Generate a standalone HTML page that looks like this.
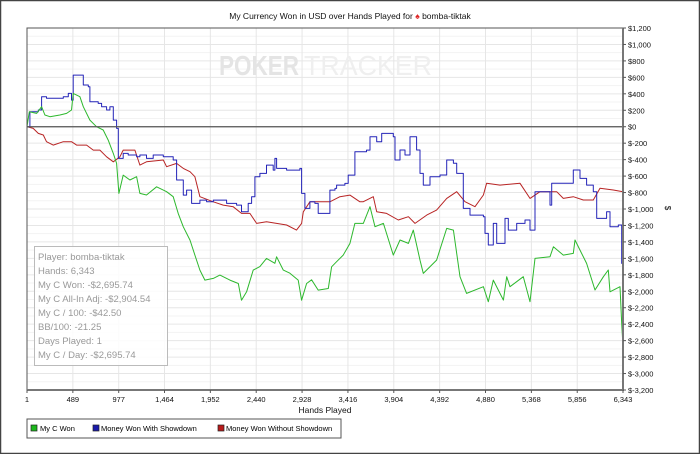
<!DOCTYPE html>
<html><head><meta charset="utf-8"><style>
html,body{margin:0;padding:0;background:#fff}
svg{display:block;font-family:"Liberation Sans",sans-serif}
</style></head><body>
<svg id="chart" width="700" height="454" viewBox="0 0 700 454" xmlns="http://www.w3.org/2000/svg">
<rect x="0.5" y="0.5" width="699" height="453" fill="#fff" stroke="#444" stroke-width="1.5"/>
<text x="350" y="19" font-size="8.5" text-anchor="middle" fill="#111">My Currency Won in USD over Hands Played for <tspan fill="#d22">♠</tspan> bomba-tiktak</text>
<g id="grid"></g>
<g font-size="28" font-weight="bold"><text x="219" y="75" fill="#e4e4e4" textLength="80" lengthAdjust="spacingAndGlyphs">POKER</text><text x="304" y="75" fill="#efefef" font-weight="normal" textLength="128" lengthAdjust="spacingAndGlyphs">TRACKER</text></g>
<g id="series"></g>
<g id="axes"></g>
<text x="665" y="208" font-size="8" text-anchor="middle" transform="rotate(90 665 208)">$</text>
<text x="325" y="413" font-size="8.5" text-anchor="middle" fill="#111">Hands Played</text>
<g>
<rect x="34.5" y="246.5" width="133" height="119" fill="#fff" fill-opacity="0.85" stroke="#bbb"/>
<g font-size="9.5" fill="#999">
<text x="38" y="260">Player: bomba-tiktak</text>
<text x="38" y="274">Hands: 6,343</text>
<text x="38" y="288">My C Won: -$2,695.74</text>
<text x="38" y="302">My C All-In Adj: -$2,904.54</text>
<text x="38" y="316">My C / 100: -$42.50</text>
<text x="38" y="330">BB/100: -21.25</text>
<text x="38" y="344">Days Played: 1</text>
<text x="38" y="358">My C / Day: -$2,695.74</text>
</g></g>
<g>
<rect x="27" y="419" width="314" height="19" fill="#fff" stroke="#555" stroke-width="1"/>
<g><rect x="31" y="425" width="6" height="6" fill="#1db81d" stroke="#222" stroke-width="0.7"/><text x="40" y="431" font-size="7.5">My C Won</text></g>
<g><rect x="93" y="425" width="6" height="6" fill="#1a1aaa" stroke="#222" stroke-width="0.7"/><text x="101" y="431" font-size="7.5">Money Won With Showdown</text></g>
<g><rect x="218" y="425" width="6" height="6" fill="#b81a1a" stroke="#222" stroke-width="0.7"/><text x="226" y="431" font-size="7.5">Money Won Without Showdown</text></g>
</g>
</svg>
<script>
const xTicks = [1,489,977,1464,1952,2440,2928,3416,3904,4392,4880,5368,5856,6343];
const yTicks = [1200,1000,800,600,400,200,0,-200,-400,-600,-800,-1000,-1200,-1400,-1600,-1800,-2000,-2200,-2400,-2600,-2800,-3000,-3200];
const greenHands = [1,25,103,156,192,245,351,422,475,493,564,600,670,741,812,865,919,954,979,1025,1096,1167,1202,1273,1380,1486,1557,1610,1664,1735,1788,1841,1894,1983,2054,2160,2249,2284,2338,2408,2479,2550,2639,2657,2728,2799,2887,2923,2976,3029,3100,3207,3242,3295,3366,3437,3490,3543,3580,3651,3704,3793,3899,3970,4059,4112,4183,4218,4360,4467,4538,4608,4679,4857,4910,4963,5070,5105,5141,5282,5353,5407,5566,5602,5708,5814,5832,5885,5956,6045,6134,6187,6205,6311,6329,6343];
const greenValues = [0,182,162,243,142,122,142,162,203,405,365,243,81,0,-40,-162,-324,-446,-810,-588,-648,-608,-810,-830,-730,-790,-851,-1054,-1216,-1378,-1560,-1743,-1864,-1844,-1804,-1864,-1905,-2108,-2006,-1743,-1700,-1601,-1660,-1581,-1743,-1780,-1864,-2108,-1905,-1860,-1986,-1966,-1702,-1640,-1560,-1419,-1175,-1175,-1175,-972,-1215,-1175,-1560,-1377,-1418,-1256,-1621,-1783,-1621,-1236,-1256,-1823,-2026,-1945,-2127,-1864,-2107,-1823,-1945,-1823,-2127,-1600,-1580,-1459,-1560,-1540,-1377,-1499,-1661,-1985,-1823,-1742,-2006,-1945,-2391,-2675];
const blueHands = [1,32,121,156,209,387,440,475,493,582,600,653,670,759,795,848,883,919,954,972,1025,1078,1167,1202,1273,1344,1451,1557,1593,1664,1699,1752,1841,1912,1983,2125,2231,2284,2355,2391,2426,2479,2550,2621,2639,2657,2763,2834,2905,2923,2958,3011,3064,3100,3207,3224,3278,3295,3384,3419,3490,3614,3651,3722,3775,3899,3917,3970,4023,4077,4147,4183,4218,4289,4396,4467,4538,4573,4644,4715,4857,4875,4910,4963,4999,5087,5123,5212,5300,5353,5407,5549,5566,5584,5744,5814,5885,5956,6027,6063,6169,6205,6293,6329,6343];
const blueValues = [0,182,203,365,345,365,405,324,628,628,507,486,304,284,243,203,243,81,-20,-385,-324,-344,-365,-344,-385,-344,-365,-405,-648,-831,-770,-932,-892,-912,-892,-932,-953,-1034,-932,-851,-608,-567,-466,-527,-385,-507,-527,-527,-507,-810,-993,-912,-932,-1054,-1054,-770,-750,-709,-689,-588,-304,-284,-121,-182,-81,-121,-405,-283,-344,-121,-283,-567,-709,-607,-587,-405,-445,-567,-993,-1074,-1094,-1296,-1438,-1175,-1418,-1114,-1256,-1175,-1134,-1256,-790,-790,-952,-688,-688,-526,-628,-709,-790,-1114,-1033,-1215,-1195,-1661,-1904];
const redHands = [1,67,121,174,209,280,387,475,529,635,706,777,848,919,990,1025,1149,1202,1273,1451,1486,1593,1664,1735,1788,1841,1983,2089,2196,2284,2373,2444,2550,2763,2869,2923,2941,3011,3224,3331,3437,3543,3580,3686,3722,3828,3952,4059,4130,4254,4360,4467,4573,4662,4768,4857,4892,5034,5247,5353,5460,5637,5708,5814,5921,6027,6098,6240,6343];
const redValues = [0,-20,-81,-101,-182,-223,-182,-182,-223,-223,-284,-284,-365,-426,-365,-284,-284,-466,-426,-405,-486,-446,-507,-547,-608,-851,-912,-953,-973,-1054,-1054,-1175,-1155,-1195,-1256,-1175,-1034,-912,-912,-851,-831,-912,-911,-851,-1033,-1054,-1134,-1094,-1175,-1074,-1013,-871,-790,-911,-972,-830,-688,-709,-688,-871,-790,-790,-871,-850,-891,-891,-749,-769,-790];

const L=27,R=623,T=28,B=390,XMIN=1,XMAX=6343,YMAX=1200,YMIN=-3200;
const sx=h=>L+(h-XMIN)/(XMAX-XMIN)*(R-L);
const sy=v=>T+(YMAX-v)/(YMAX-YMIN)*(B-T);
const NS="http://www.w3.org/2000/svg";
function mk(tag,attrs,parent){const e=document.createElementNS(NS,tag);for(const k in attrs)e.setAttribute(k,attrs[k]);parent.appendChild(e);return e;}
const grid=document.getElementById('grid'),axes=document.getElementById('axes'),series=document.getElementById('series');
for(let v=YMAX;v>=YMIN;v-=100){const g=mk('line',{x1:L,x2:R,y1:sy(v),y2:sy(v),stroke:v%200===0?'#e6e6e6':'#f3f3f3','stroke-width':1},grid);

}
xTicks.forEach(t=>{const g=mk('line',{x1:sx(t),x2:sx(t),y1:T,y2:B,stroke:'#e6e6e6','stroke-width':1},grid);

});
const frame=mk('path',{d:`M${L},${B} L${L},${T} L${R},${T}`,fill:'none',stroke:'#555','stroke-width':1},axes);


const zero=mk('line',{x1:L,x2:R,y1:sy(0),y2:sy(0),stroke:'#555','stroke-width':1.3},axes);


const ya=mk('line',{x1:R,x2:R,y1:T,y2:B+1,stroke:'#777','stroke-width':2},axes);


const xa=mk('line',{x1:L,x2:R+1,y1:B,y2:B,stroke:'#777','stroke-width':2},axes);


const fmt=v=>'$'+(v<0?'-':'')+Math.abs(v).toLocaleString('en-US');
yTicks.forEach(v=>{mk('line',{x1:R,x2:R+3,y1:sy(v),y2:sy(v),stroke:'#555'},axes);
const t=mk('text',{x:R+5,y:sy(v)+3,'font-size':7.5,fill:'#111'},axes);t.textContent=fmt(v);

});
xTicks.forEach(h=>{mk('line',{x1:sx(h),x2:sx(h),y1:B,y2:B+3,stroke:'#555'},axes);
const t=mk('text',{x:sx(h),y:B+12,'font-size':7.5,'text-anchor':'middle',fill:'#111'},axes);t.textContent=h.toLocaleString('en-US');

});
function line(hs,vs,color,name,step){let d='';
hs.forEach((h,i)=>{const x=sx(h).toFixed(1),y=sy(vs[i]).toFixed(1);
if(i===0)d+=`M${x},${y}`;else if(step)d+=`H${x}V${y}`;else d+=`L${x},${y}`;});
const p=mk('path',{d:d,fill:'none',stroke:color,'stroke-width':1,'stroke-linejoin':'round'},series);

}
line(redHands,redValues,'#b82424','line-without-showdown',false);
line(blueHands,blueValues,'#2424b8','line-with-showdown',true);
line(greenHands,greenValues,'#2db82d','line-my-c-won',false);
</script>
</body></html>
